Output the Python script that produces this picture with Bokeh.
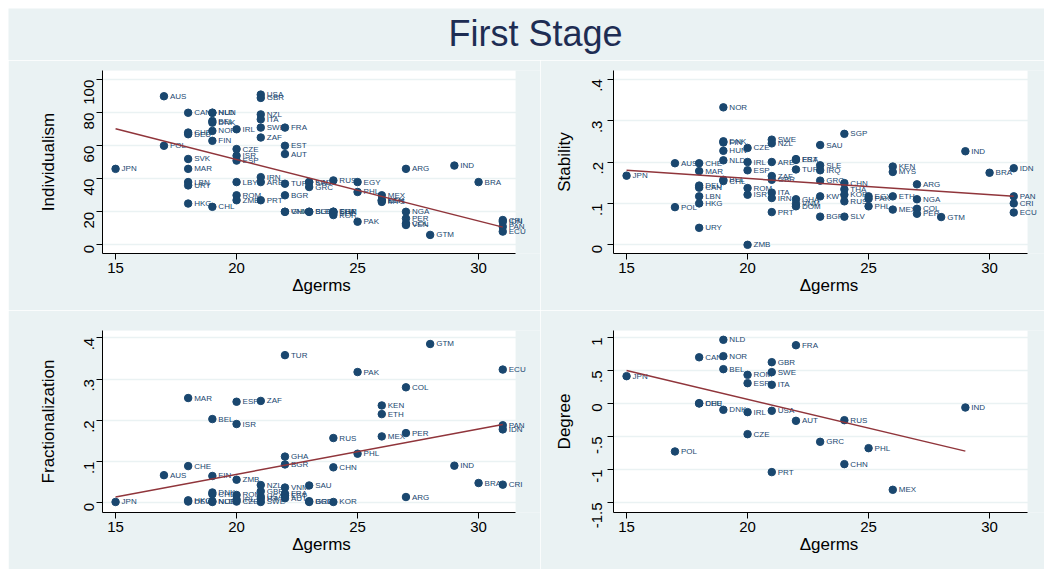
import math
from bokeh.plotting import figure
from bokeh.layouts import column, row
from bokeh.models import Range1d, FixedTicker, ColumnDataSource, Label, LabelSet, BoxAnnotation
from bokeh.embed import file_html
from bokeh.resources import INLINE
from bokeh.core.properties import value

# ---------------- data ----------------
germs_ticks = [15, 20, 25, 30]
germs_tick_labels = ["15", "20", "25", "30"]

ind_codes = ["JPN", "AUS", "POL", "CAN", "CHE", "DEU", "SVK", "MAR", "LBN", "URY", "HKG",
             "NLD", "HUN", "BEL", "DNK", "NOR", "FIN", "CHL",
             "IRL", "CZE", "ISR", "ESP", "LBY", "ROM", "ZMB",
             "USA", "GBR", "NZL", "ITA", "SWE", "ZAF", "IRN", "ARE", "PRT",
             "FRA", "EST", "AUT", "TUR", "BGR", "GHA", "VNM",
             "SAU", "KWT", "GRC", "SLE", "BGD",
             "RUS", "CHN", "SGP", "THA", "SLV", "KOR",
             "EGY", "PHL", "PAK", "MEX", "KEN", "ETH", "MYS",
             "ARG", "NGA", "PER", "COL", "VEN", "GTM", "IND", "BRA",
             "CRI", "IDN", "PAN", "ECU"]
ind_germs = [15, 17, 17, 18, 18, 18, 18, 18, 18, 18, 18,
             19, 19, 19, 19, 19, 19, 19,
             20, 20, 20, 20, 20, 20, 20,
             21, 21, 21, 21, 21, 21, 21, 21, 21,
             22, 22, 22, 22, 22, 22, 22,
             23, 23, 23, 23, 23,
             24, 24, 24, 24, 24, 24,
             25, 25, 25, 26, 26, 26, 26,
             27, 27, 27, 27, 27, 28, 29, 30,
             31, 31, 31, 31]
ind_vals = [46, 90, 60, 80, 68, 67, 52, 46, 38, 36, 25,
            80, 80, 75, 74, 69, 63, 23,
            70, 58, 54, 51, 38, 30, 27,
            91, 89, 79, 76, 71, 65, 41, 38, 27,
            71, 60, 55, 37, 30, 20, 20,
            38, 38, 35, 20, 20,
            39, 20, 20, 20, 19, 18,
            38, 32, 14, 30, 27, 27, 26,
            46, 20, 16, 13, 12, 6, 48, 38,
            15, 14, 11, 8]
ind_fit_x = [15, 31]
ind_fit_y = [70.3, 10.7]

stab_codes = ["JPN", "AUS", "POL", "CHE", "MAR", "DEU", "CAN", "LBN", "HKG", "URY",
              "NOR", "DNK", "FIN", "HUN", "NLD", "BEL", "CHL",
              "CZE", "IRL", "ESP", "ROM", "ISR", "ZMB",
              "SWE", "NZL", "ARE", "ZAF", "GBR", "ITA", "IRN", "PRT",
              "FRA", "EST", "TUR", "GHA", "VNM", "DOM",
              "SAU", "SLE", "IRQ", "GRC", "KWT", "BGR",
              "SGP", "CHN", "THA", "KOR", "RUS", "SLV",
              "EGY", "PAK", "PHL", "KEN", "MYS", "ETH", "MEX",
              "ARG", "NGA", "COL", "PER", "GTM", "IND", "BRA",
              "IDN", "PAN", "CRI", "ECU"]
stab_germs = [15, 17, 17, 18, 18, 18, 18, 18, 18, 18,
              19, 19, 19, 19, 19, 19, 19,
              20, 20, 20, 20, 20, 20,
              21, 21, 21, 21, 21, 21, 21, 21,
              22, 22, 22, 22, 22, 22,
              23, 23, 23, 23, 23, 23,
              24, 24, 24, 24, 24, 24,
              25, 25, 25, 26, 26, 26, 26,
              27, 27, 27, 27, 28, 29, 30,
              31, 31, 31, 31]
stab_vals = [0.167, 0.197, 0.091, 0.197, 0.178, 0.143, 0.138, 0.117, 0.100, 0.041,
             0.332, 0.250, 0.247, 0.227, 0.204, 0.157, 0.154,
             0.234, 0.200, 0.180, 0.137, 0.121, 0.000,
             0.254, 0.245, 0.200, 0.166, 0.157, 0.126, 0.113, 0.079,
             0.207, 0.205, 0.182, 0.110, 0.099, 0.093,
             0.241, 0.192, 0.180, 0.155, 0.117, 0.068,
             0.268, 0.149, 0.134, 0.121, 0.105, 0.068,
             0.117, 0.111, 0.093, 0.189, 0.176, 0.117, 0.085,
             0.146, 0.110, 0.087, 0.075, 0.067, 0.226, 0.174,
             0.185, 0.117, 0.100, 0.078]
stab_fit_x = [15, 31]
stab_fit_y = [0.180, 0.117]

frac_codes = ["JPN", "AUS", "CHE", "MAR", "DEU", "HKG",
              "BEL", "FIN", "DNK", "CHL", "NLD", "NOR",
              "ESP", "ISR", "ZMB", "ROM", "CZE", "IRL",
              "ZAF", "NZL", "GBR", "USA", "ITA", "SWE",
              "TUR", "GHA", "BGR", "VNM", "FRA", "EST", "AUT",
              "SAU", "BGD", "GRC", "RUS", "CHN", "KOR",
              "PAK", "PHL", "KEN", "ETH", "MEX", "COL", "PER", "ARG",
              "GTM", "IND", "BRA", "ECU", "PAN", "IDN", "CRI"]
frac_germs = [15, 17, 18, 18, 18, 18,
              19, 19, 19, 19, 19, 19,
              20, 20, 20, 20, 20, 20,
              21, 21, 21, 21, 21, 21,
              22, 22, 22, 22, 22, 22, 22,
              23, 23, 23, 24, 24, 24,
              25, 25, 26, 26, 26, 27, 27, 27,
              28, 29, 30, 31, 31, 31, 31]
frac_vals = [0.002, 0.067, 0.089, 0.254, 0.003, 0.006,
             0.203, 0.065, 0.025, 0.021, 0.002, 0.004,
             0.245, 0.191, 0.056, 0.019, 0.003, 0.008,
             0.247, 0.043, 0.028, 0.015, 0.010, 0.002,
             0.358, 0.112, 0.093, 0.037, 0.022, 0.018, 0.011,
             0.042, 0.004, 0.002, 0.157, 0.086, 0.002,
             0.317, 0.119, 0.236, 0.215, 0.161, 0.280, 0.169, 0.014,
             0.385, 0.090, 0.048, 0.323, 0.188, 0.178, 0.044]
frac_fit_x = [15, 31]
frac_fit_y = [0.014, 0.190]

deg_codes = ["JPN", "POL", "CAN", "DEU", "CHE", "NLD", "NOR", "BEL", "DNK",
             "ROM", "ESP", "IRL", "CZE", "GBR", "SWE", "ITA", "USA", "PRT",
             "FRA", "AUT", "GRC", "RUS", "CHN", "PHL", "MEX", "IND"]
deg_germs = [15, 17, 18, 18, 18, 19, 19, 19, 19,
             20, 20, 20, 20, 21, 21, 21, 21, 21,
             22, 22, 23, 24, 24, 25, 26, 29]
deg_vals = [0.414, -0.727, 0.70, 0.005, 0.0, 0.965, 0.717, 0.52, -0.096,
            0.434, 0.308, -0.131, -0.465, 0.626, 0.475, 0.283, -0.111, -1.04,
            0.883, -0.263, -0.581, -0.253, -0.919, -0.677, -1.308, -0.061]
deg_fit_x = [15, 29]
deg_fit_y = [0.50, -0.722]

ind_ticks = [0, 20, 40, 60, 80, 100]
ind_tick_labels = ["0", "20", "40", "60", "80", "100"]
stab_ticks = [0, 0.1, 0.2, 0.3, 0.4]
stab_tick_labels = ["0", ".1", ".2", ".3", ".4"]
frac_ticks = [0, 0.1, 0.2, 0.3, 0.4]
frac_tick_labels = ["0", ".1", ".2", ".3", ".4"]
deg_ticks = [-1.5, -1, -0.5, 0, 0.5, 1]
deg_tick_labels = ["-1.5", "-1", "-.5", "0", ".5", "1"]

# ---------------- style ----------------
BG = "#EAF2F3"
NAVY = "#1A476F"
MAROON = "#90353B"
TITLE_C = "#1E2D53"
FONT = "Liberation Sans"


def make_panel(codes, germs, vals, fitx, fity, ylab, yrange, yticks, ylabels,
               xrange, plot_right, width, height, bl, bt, bb,
               tick_standoff, ylab_standoff):
    p = figure(width=width, height=height,
               x_range=Range1d(*xrange), y_range=Range1d(*yrange),
               output_backend="svg", toolbar_location=None,
               min_border_left=bl, min_border_right=0,
               min_border_top=bt, min_border_bottom=bb)
    p.border_fill_color = BG
    p.background_fill_color = BG
    p.outline_line_color = None
    # white plot region (the frame extends a bit to the right so labels can overflow)
    p.add_layout(BoxAnnotation(left=xrange[0], right=plot_right,
                               bottom=yrange[0], top=yrange[1],
                               fill_color="white", fill_alpha=1.0,
                               line_color=None, level="image"))
    p.xgrid.visible = False
    p.ygrid.grid_line_color = BG
    p.ygrid.grid_line_width = 1.3

    src = ColumnDataSource(dict(x=germs, y=vals, t=codes))
    p.scatter("x", "y", source=src, size=7.5, color=NAVY)
    p.text("x", "y", text="t", source=src, x_offset=6,
           text_baseline="middle", text_align="left",
           text_font_size="8px", text_color=NAVY,
           text_font=value(FONT))
    p.line(fitx, fity, color=MAROON, line_width=1.5)

    xa = p.xaxis[0]
    xa.ticker = FixedTicker(ticks=germs_ticks)
    xa.major_label_overrides = {t: l for t, l in zip(germs_ticks, germs_tick_labels)}
    xa.axis_label = "Δgerms"
    xa.bounds = (xrange[0], plot_right)

    ya = p.yaxis[0]
    ya.ticker = FixedTicker(ticks=yticks)
    ya.major_label_overrides = {t: l for t, l in zip(yticks, ylabels)}
    ya.major_label_orientation = math.pi / 2
    ya.axis_label = ylab

    for ax in (xa, ya):
        ax.axis_line_color = "black"
        ax.axis_line_width = 1
        ax.major_tick_line_color = "black"
        ax.major_tick_out = 6
        ax.major_tick_in = 0
        ax.minor_tick_line_color = None
        ax.major_label_text_font = FONT
        ax.major_label_text_font_size = "15px"
        ax.major_label_text_color = "black"
        ax.axis_label_text_font = FONT
        ax.axis_label_text_font_size = "17px"
        ax.axis_label_text_font_style = "normal"
        ax.axis_label_text_color = "black"
    xa.major_label_standoff = 3
    xa.axis_label_standoff = 0
    ya.major_label_standoff = tick_standoff
    ya.axis_label_standoff = ylab_standoff
    return p


PX_PER_UNIT = 24.2
X0 = 14.46
XR_L = (X0, X0 + 438 / PX_PER_UNIT)
XR_R = (X0, X0 + 431 / PX_PER_UNIT)
RIGHT_L = 31.53
RIGHT_R = 31.57

tl = make_panel(ind_codes, ind_germs, ind_vals, ind_fit_x, ind_fit_y, "Individualism",
                (-5.27, 105.6), ind_ticks, ind_tick_labels, XR_L, RIGHT_L,
                532, 250, 94, 10, 57, 7, 19)
tr = make_panel(stab_codes, stab_germs, stab_vals, stab_fit_x, stab_fit_y, "Stability",
                (-0.021, 0.421), stab_ticks, stab_tick_labels, XR_R, RIGHT_R,
                504, 250, 73, 10, 57, 10, 11)
bl = make_panel(frac_codes, frac_germs, frac_vals, frac_fit_x, frac_fit_y, "Fractionalization",
                (-0.0235, 0.4177), frac_ticks, frac_tick_labels, XR_L, RIGHT_L,
                532, 259, 94, 20, 57, 7, 19)
br = make_panel(deg_codes, deg_germs, deg_vals, deg_fit_x, deg_fit_y, "Degree",
                (-1.652, 1.106), deg_ticks, deg_tick_labels, XR_R, RIGHT_R,
                504, 259, 73, 20, 57, 10, 11)

title = figure(width=1036, height=52, x_range=Range1d(0, 1036), y_range=Range1d(0, 52),
               output_backend="svg", toolbar_location=None, min_border=0)
title.axis.visible = False
title.grid.visible = False
title.outline_line_color = None
title.background_fill_color = BG
title.border_fill_color = BG
title.add_layout(Label(x=527, y=27, text="First Stage", text_align="center",
                       text_baseline="middle", text_font_size="36px",
                       text_color=TITLE_C, text_font=FONT))

layout = column(title, row(tl, tr), row(bl, br), margin=(8, 0, 0, 8))

with open("out.html", "w") as f:
    f.write(file_html(layout, INLINE))
